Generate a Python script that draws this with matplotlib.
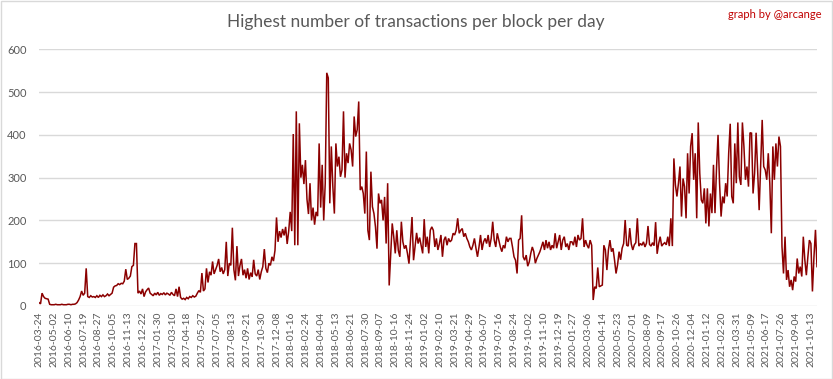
import matplotlib
matplotlib.use("Agg")
import matplotlib.pyplot as plt
from matplotlib.patches import Rectangle
import numpy as np

plt.rcParams['font.family'] = ['Lato', 'DejaVu Sans']

title = "Highest number of transactions per block per day"
credit = "graph by @arcange"

# one value every 4 days, starting 2016-03-24
sample_step_days = 4
values = [
    8, 5, 30, 22, 18, 17, 16, 4, 3, 3,
    3, 4, 3, 3, 3, 4, 3, 3, 3, 4,
    4, 3, 4, 4, 5, 8, 14, 22, 35, 25,
    30, 88, 22, 20, 24, 21, 22, 20, 24, 20,
    25, 22, 26, 22, 24, 28, 24, 27, 30, 44,
    47, 48, 52, 50, 53, 52, 58, 86, 62, 65,
    70, 92, 95, 146, 146, 30, 35, 28, 40, 22,
    33, 38, 42, 30, 27, 24, 30, 26, 32, 25,
    29, 27, 31, 26, 30, 28, 25, 32, 27, 24,
    40, 22, 45, 20, 16, 18, 15, 20, 17, 22,
    20, 24, 21, 23, 30, 36, 32, 77, 35, 40,
    88, 55, 80, 72, 104, 75, 85, 95, 110, 80,
    90, 75, 85, 150, 70, 100, 95, 183, 85, 60,
    140, 70, 95, 110, 72, 85, 65, 88, 62, 78,
    68, 108, 75, 70, 85, 62, 80, 92, 133, 88,
    78, 100, 95, 115, 105, 130, 207, 150, 175, 160,
    180, 165, 185, 145, 175, 220, 175, 402, 142, 455,
    142, 427, 300, 330, 285, 341, 250, 215, 287, 200,
    230, 190, 220, 210, 380, 230, 330, 200, 287, 545,
    533, 240, 373, 279, 216, 380, 326, 349, 302, 318,
    455, 300, 357, 334, 380, 365, 326, 443, 396, 412,
    478, 271, 279, 263, 216, 361, 177, 154, 314, 232,
    216, 185, 134, 263, 240, 248, 200, 255, 146, 287,
    48, 123, 193, 162, 123, 177, 130, 115, 197, 150,
    134, 142, 123, 99, 154, 208, 107, 138, 171, 146,
    160, 142, 123, 203, 138, 162, 123, 177, 185, 177,
    138, 158, 131, 146, 166, 115, 154, 162, 142, 158,
    150, 154, 170, 166, 177, 205, 170, 177, 181, 162,
    170, 158, 150, 138, 131, 142, 158, 135, 115, 138,
    166, 131, 150, 158, 146, 166, 138, 158, 197, 154,
    138, 170, 154, 138, 127, 142, 135, 162, 150, 158,
    158, 138, 115, 107, 76, 154, 158, 212, 115, 107,
    119, 93, 103, 123, 138, 127, 100, 111, 119, 127,
    138, 150, 131, 154, 135, 150, 131, 142, 135, 170,
    135, 150, 166, 131, 154, 162, 138, 146, 131, 150,
    150, 142, 162, 138, 166, 154, 158, 205, 138, 154,
    142, 135, 154, 142, 14, 45, 41, 90, 45, 47,
    49, 142, 131, 84, 131, 154, 127, 135, 108, 76,
    96, 127, 108, 135, 146, 201, 142, 140, 182, 145,
    131, 143, 148, 205, 140, 146, 142, 150, 138, 147,
    187, 144, 140, 148, 141, 196, 122, 146, 162, 140,
    145, 148, 143, 162, 140, 205, 140, 345, 283, 256,
    287, 326, 209, 298, 279, 205, 357, 263, 373, 404,
    295, 357, 205, 429, 310, 248, 240, 275, 193, 275,
    186, 263, 217, 330, 217, 322, 400, 287, 209, 256,
    240, 287, 256, 357, 426, 256, 240, 380, 287, 429,
    302, 283, 429, 373, 295, 326, 279, 405, 404, 263,
    310, 405, 318, 224, 326, 435, 326, 318, 295, 357,
    287, 170, 373, 295, 380, 326, 396, 373, 139, 76,
    162, 61, 84, 45, 61, 37, 69, 57, 111, 76,
    92, 69, 162, 108, 72, 115, 154, 146, 34, 115,
    178, 92,
]

tick_every = 39
tick_labels = [
    "2016-03-24", "2016-05-02", "2016-06-10", "2016-07-19", "2016-08-27",
    "2016-10-05", "2016-11-13", "2016-12-22", "2017-01-30", "2017-03-10",
    "2017-04-18", "2017-05-27", "2017-07-05", "2017-08-13", "2017-09-21",
    "2017-10-30", "2017-12-08", "2018-01-16", "2018-02-24", "2018-04-04",
    "2018-05-13", "2018-06-21", "2018-07-30", "2018-09-07", "2018-10-16",
    "2018-11-24", "2019-01-02", "2019-02-10", "2019-03-21", "2019-04-29",
    "2019-06-07", "2019-07-16", "2019-08-24", "2019-10-02", "2019-11-10",
    "2019-12-19", "2020-01-27", "2020-03-06", "2020-04-14", "2020-05-23",
    "2020-07-01", "2020-08-09", "2020-09-17", "2020-10-26", "2020-12-04",
    "2021-01-12", "2021-02-20", "2021-03-31", "2021-05-09", "2021-06-17",
    "2021-07-26", "2021-09-04", "2021-10-13",
]
y_ticks = [0, 100, 200, 300, 400, 500, 600]

W, H = 833, 379
fig = plt.figure(figsize=(W / 100, H / 100), dpi=100)
fig.patch.set_facecolor('white')
ax = fig.add_axes([39 / W, 1 - 306 / H, (817 - 39) / W, (306 - 49.3) / H])

x = np.arange(len(values)) * sample_step_days
ax.plot(x, values, color='#8b0000', lw=1.1, solid_joinstyle='miter')

ax.set_xlim(0, x[-1])
ax.set_ylim(0, 600)
ax.set_yticks(y_ticks)
ax.set_yticklabels([str(v) for v in y_ticks])
ax.set_xticks(np.arange(len(tick_labels)) * tick_every)
ax.set_xticklabels(tick_labels, rotation=90)
ax.grid(axis='y', color='#d9d9d9', lw=1.0)
ax.set_axisbelow(True)
for s in ax.spines.values():
    s.set_visible(False)
ax.tick_params(axis='both', length=0, colors='#595959')
ax.tick_params(axis='x', labelsize=7.5, pad=4)
ax.tick_params(axis='y', labelsize=8, pad=9)

fig.text(416 / W, 1 - 22 / H, title, ha='center', va='center', fontsize=12.5, color='#595959')
fig.text(822 / W, 1 - 14 / H, credit, ha='right', va='center', fontsize=8, color='#c00000')

fig.patches.append(Rectangle((0.5 / W, 0.5 / H), 1 - 1.5 / W, 1 - 1.5 / H, transform=fig.transFigure,
                             fill=False, edgecolor='#d9d9d9', lw=1))

fig.savefig('out.png', dpi=100, facecolor='white')
